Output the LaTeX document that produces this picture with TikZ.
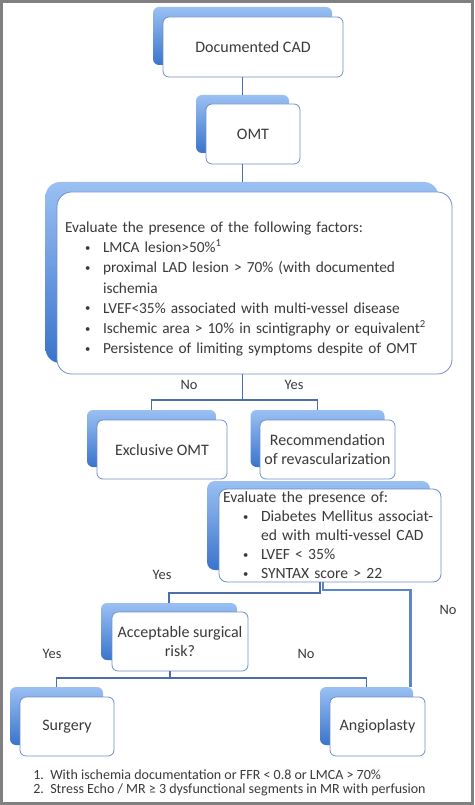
\documentclass[tikz,border=0pt]{standalone}
\usepackage{fontspec}
\setmainfont{Carlito}
\definecolor{shadtop}{HTML}{9AC0F3}
\definecolor{shadbot}{HTML}{3A74CC}
\definecolor{boxline}{HTML}{6F8FC6}
\definecolor{connc}{HTML}{4C6EA8}
\definecolor{thickc}{HTML}{5A86CC}
\definecolor{txt}{HTML}{3A3A3A}
\definecolor{bordc}{HTML}{808080}
\newcommand\boxfont{\fontsize{12pt}{13.8pt}\selectfont}
\newcommand\listfont{\fontsize{11.5pt}{15.2pt}\selectfont}
\newcommand\smlistfont{\fontsize{11.7pt}{14.25pt}\selectfont}
\newcommand\lblfont{\fontsize{10.8pt}{12pt}\selectfont}
\newcommand\fnfont{\fontsize{10.5pt}{12pt}\selectfont}
\newcommand\bul{\makebox[28.5pt][l]{\hspace*{15pt}\raisebox{1.1pt}{\fontsize{8pt}{8pt}\selectfont\textbullet}}}
\newcommand\nobul{\makebox[28.5pt][l]{}}
\tikzset{
  shad/.style={rounded corners=4.5pt, top color=shadtop, bottom color=shadbot, draw=none, inner sep=0pt},
  bigshad/.style={shad, rounded corners=11pt},
  fbox/.style={rounded corners=4.5pt, fill=white, draw=boxline, line width=0.6pt, inner sep=0pt, align=center, font=\boxfont, text=txt},
  bigbox/.style={fbox, rounded corners=11pt, align=left, font=\listfont, inner xsep=6pt, text width=284.25pt},
  midbox/.style={fbox, rounded corners=6pt, align=left, font=\smlistfont, inner xsep=3pt, text width=160.5pt},
  conn/.style={draw=connc, line width=0.9pt},
  thickconn/.style={draw=thickc, line width=2.2pt},
  lbl/.style={font=\lblfont, text=txt, inner sep=0pt},
  fn/.style={font=\fnfont, text=txt, inner sep=0pt, anchor=west},
  frame/.style={draw=bordc, line width=2.25pt}
}
\begin{document}
\begin{tikzpicture}[x=0.75pt,y=-0.75pt]
\useasboundingbox (0,0) rectangle (474,805);
\fill[white] (0,0) rectangle (474,805);
\draw[frame] (1.5,1.5) rectangle (472.5,803.5);

% Documented CAD
\node[shad, minimum width=134.25pt, minimum height=43.5pt] (s1) at (242.5,36) {};
\node[fbox, minimum width=135pt, minimum height=45pt] (b1) at (253,47) {Documented CAD};
% OMT
\node[shad, minimum width=69.75pt, minimum height=43.5pt] (s2) at (242.5,124) {};
\node[fbox, minimum width=70.5pt, minimum height=45pt] (b2) at (253,134) {OMT};
% Big evaluation box
\node[bigshad, minimum width=294.75pt, minimum height=135.75pt] (s3) at (242,272.5) {};
\node[bigbox, minimum height=136.5pt] (b3) at (254.5,283) {\rule{0pt}{17pt}Evaluate the presence of the following factors:\\
\bul LMCA lesion>50\%\textsuperscript{1}\\
\bul proximal LAD lesion > 70\% (with documented\\
\nobul ischemia\\
\bul LVEF<35\% associated with multi-vessel disease\\
\bul Ischemic area > 10\% in scintigraphy or equivalent\textsuperscript{2}\\
\bul Persistence of limiting symptoms despite of OMT};
% Exclusive OMT
\node[shad, minimum width=96.75pt, minimum height=42.75pt] (s4) at (151.5,438.5) {};
\node[fbox, minimum width=97.5pt, minimum height=44.25pt] (b4) at (162,449.5) {Exclusive OMT};
% Recommendation
\node[shad, minimum width=100.5pt, minimum height=42.75pt] (s5) at (317.5,438.5) {};
\node[fbox, minimum width=101.25pt, minimum height=44.25pt] (b5) at (327.5,449.5) {Recommendation\\of revascularization};
% Second evaluation box
\node[shad, rounded corners=6pt, minimum width=167.25pt, minimum height=66.75pt] (s6) at (318.5,525.5) {};
\node[midbox, minimum height=69.75pt] (b6) at (330,535.5) {Evaluate the presence of:\\
\bul Diabetes Mellitus associat-\\
\nobul ed with multi-vessel CAD\\
\bul LVEF < 35\%\\
\bul SYNTAX score > 22};
% Acceptable surgical risk
\node[shad, minimum width=102pt, minimum height=42.75pt] (s7) at (169,631.5) {};
\node[fbox, minimum width=102pt, minimum height=44.25pt] (b7) at (180,641.5) {Acceptable surgical\\risk?};
% Surgery
\node[shad, minimum width=69.75pt, minimum height=43.5pt] (s8) at (56.5,716) {};
\node[fbox, minimum width=70.5pt, minimum height=44.25pt] (b8) at (67,726.5) {Surgery};
% Angioplasty
\node[shad, minimum width=69.75pt, minimum height=43.5pt] (s9) at (366.5,716) {};
\node[fbox, minimum width=71.25pt, minimum height=44.25pt] (b9) at (377.5,726.5) {Angioplasty};

% connectors
\coordinate (j1) at (242.5,400);
\coordinate (j2) at (320,593);
\coordinate (t1) at (323,590);
\coordinate (j3) at (170,678);
\draw[conn] (s1.south |- b1.south) -- (s2.north);
\draw[conn] (s2.south |- b2.south) -- (s2.south |- s3.north);
\draw[conn] (j1 |- b3.south) -- (j1);
\draw[conn] (s4.north) |- (j1) -| (s5.north);
\draw[conn] (j2 |- b6.south) -- (j2) -| (s7.north);
\draw[thickconn] (t1 |- b6.south) -- (t1) -| ([xshift=-2.25pt]s9.north east);
\draw[conn] (j3 |- b7.south) -- (j3);
\draw[conn] (s8.north) |- (j3) -| (s9.north);

% labels
\node[lbl] (l1) at (189,385) {No};
\node[lbl] (l2) at (294,385) {Yes};
\node[lbl] (l3) at (162,575) {Yes};
\node[lbl] (l4) at (448,610) {No};
\node[lbl] (l5) at (52,654) {Yes};
\node[lbl] (l6) at (306,654) {No};

% footnotes
\node[fn] (f1) at (33,775) {\makebox[12.75pt][l]{1.}With ischemia documentation or FFR < 0.8 or LMCA > 70\%};
\node[fn] (f2) at (33,790) {\makebox[12.75pt][l]{2.}Stress Echo / MR ≥ 3 dysfunctional segments in MR with perfusion};
\end{tikzpicture}
\end{document}
